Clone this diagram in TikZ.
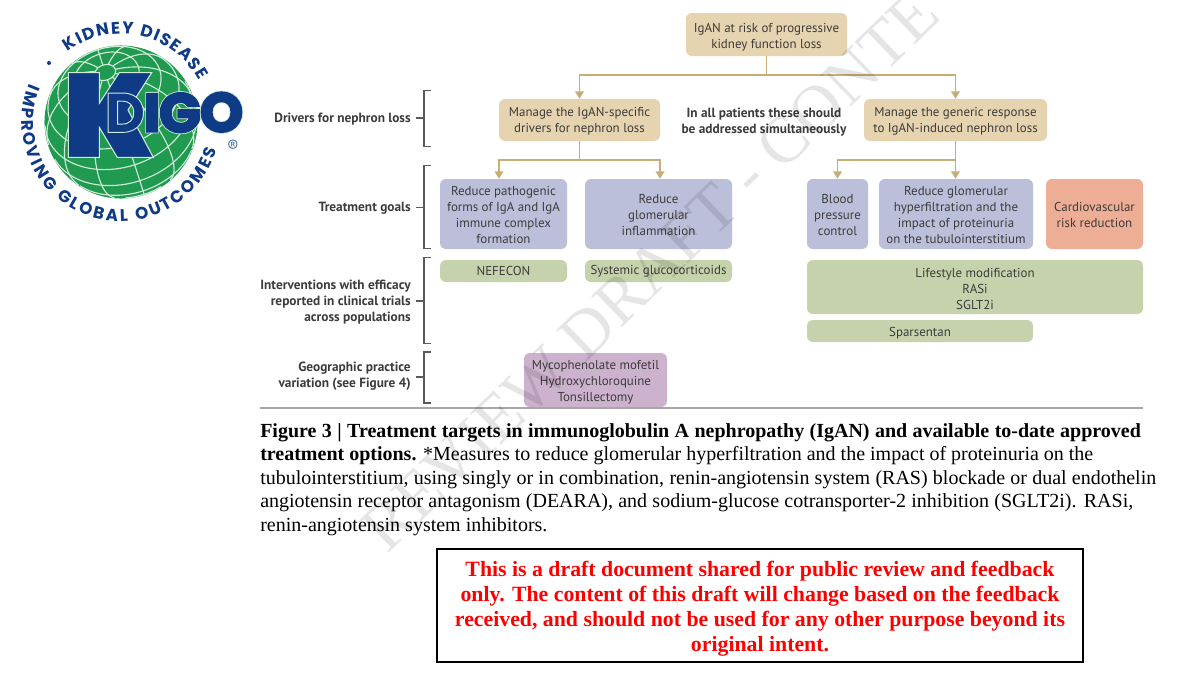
\documentclass[tikz,border=0pt]{standalone}
\usepackage{fontspec}
\usetikzlibrary{arrows.meta,decorations.text,calc}
\setmainfont{Liberation Serif}
\newfontfamily\figfont{PT Sans}
\newfontfamily\logofont{Poppins}
\definecolor{tanbox}{HTML}{E6D3AF}
\definecolor{lilac}{HTML}{BCBFDA}
\definecolor{salmon}{HTML}{EEAD95}
\definecolor{sage}{HTML}{C5D2AB}
\definecolor{mauve}{HTML}{CDB2CE}
\definecolor{linktan}{HTML}{C8AE76}
\definecolor{figtext}{HTML}{3C3C3C}
\definecolor{bracketgrey}{HTML}{5A5A5A}
\definecolor{kblue}{HTML}{0F3A85}
\definecolor{kgreen}{HTML}{1F9A50}
\definecolor{klight}{HTML}{CFEBD6}
\definecolor{regblue}{HTML}{4A75B5}
\newcommand\strokedtext[2]{\special{pdf:code 2 Tr #1 w}#2\special{pdf:code 0 Tr}}
\newcommand\lowtext[1]{\rule{0pt}{#1}}
\newcommand\logoletter[5]{% name, x,y, size, letter
  \node[logoglyph,text=klight] at (#2,#3) {\fontsize{#4}{#4}\logofont\bfseries\strokedtext{3.0}{#5}};
  \node[logoglyph,text=kblue] (#1) at (#2,#3) {\fontsize{#4}{#4}\logofont\bfseries\strokedtext{1.8}{#5}};}
\tikzset{
  x=0.75pt,y=-0.75pt,
  figbox/.style={rounded corners=4.5pt,inner sep=0pt,align=center,text=figtext,font=\figfont\fontsize{9.7}{12}\selectfont},
  tanfill/.style={figbox,fill=tanbox},
  lilacfill/.style={figbox,fill=lilac},
  salmonfill/.style={figbox,fill=salmon},
  sagefill/.style={figbox,fill=sage},
  mauvefill/.style={figbox,fill=mauve},
  sidelabel/.style={anchor=east,inner sep=0pt,align=right,text=figtext,font=\figfont\bfseries\fontsize{10}{12}\selectfont},
  link/.style={draw=linktan,line width=1.2pt},
  arrowlink/.style={link,-{Triangle[length=5.5pt,width=6.5pt]}},
  bracket/.style={draw=bracketgrey,line width=0.8pt},
  capline/.style={anchor=base west,inner sep=0pt,font=\fontsize{15}{17}\selectfont,text=black},
  redline/.style={anchor=base,inner sep=0pt,font=\bfseries\fontsize{16.35}{18}\selectfont,text=red},
  logoglyph/.style={inner sep=0pt},
  gridline/.style={draw=klight,line width=0.85pt},
  logoarc/.style={decorate,decoration={text along path,text align={fit to path},text color=kblue,text={#1}}},
}
\begin{document}
\begin{tikzpicture}
\useasboundingbox (0,0) rectangle (1200,675);
\fill[white] (0,0) rectangle (1200,675);

% ---- logo
\begin{scope}[shift={(121,122)},x=0.75pt,y=0.75pt]
  \fill[kgreen] (0,0) circle[radius=57.4pt];
  \begin{scope}
    \clip (0,0) circle[radius=57.4pt];
    \foreach \t in {8,26,44,62,80,98,116,132}{
      \pgfmathsetmacro\s{min(1,max(-1,-cot(\t)*1.048))}
      \pgfmathsetmacro\pz{asin(\s)}
      \pgfmathsetmacro\pe{180-\pz}
      \draw[gridline] plot[domain=\pz:\pe,samples=49,variable=\a]
        ({76*(cos(\t)*(-0.21)+sin(\t)*(cos(\a)*0.952+sin(\a)*0.220))},
         {76*(cos(\t)*0.658+sin(\t)*(cos(\a)*0.304-sin(\a)*0.688))});
    }
    \foreach \l in {0,30,...,330}{
      \pgfmathsetmacro\te{atan2(0.723,-sin(\l)*0.690)}
      \draw[gridline] plot[domain=8:\te,samples=30,variable=\a]
        ({76*(cos(\a)*(-0.21)+sin(\a)*(cos(\l)*0.952+sin(\l)*0.220))},
         {76*(cos(\a)*0.658+sin(\a)*(cos(\l)*0.304-sin(\l)*0.688))});
    }
  \end{scope}
  \path[logoarc={|\logofont\bfseries\fontsize{12.6}{13}\selectfont|KIDNEY DISEASE}]
    (127:66pt) arc[start angle=127,end angle=28,radius=66pt];
  \path[logoarc={|\logofont\bfseries\fontsize{12.6}{13}\selectfont|IMPROVING GLOBAL OUTCOMES}]
    (157:74.5pt) arc[start angle=157,end angle=344,radius=74.5pt];
\end{scope}
\fill[kblue] (49,63) circle[radius=2];
\draw[fill=kblue,draw=klight,line width=0.8pt,line join=miter]
  (68.3,72.7) -- (99.3,72.7) -- (99.3,103.3) -- (119.3,72.7) -- (151.7,72.7) -- (128,110)
  -- (153.3,157.3) -- (117.3,157.3) -- (99.3,127.3) -- (99.3,157.3) -- (68.3,157.3) -- cycle;
\node[logoglyph,text=kblue] (logoD) at (125,112.7) {\fontsize{42}{42}\logofont\bfseries\special{pdf:code 2 Tr 0.7 w 0.81 0.92 0.84 RG}D\special{pdf:code 0 Tr}};
\logoletter{logoI}{152}{112.7}{40}{I}
\logoletter{logoG}{180}{112.7}{41}{G}
\logoletter{logoO}{221.5}{112.2}{41}{O}
\node[logoglyph,text=regblue,font=\fontsize{13}{14}\selectfont\figfont] (logoR) at (233,146) {®};

% ---- boxes
\node[tanfill,minimum width=161*0.75pt,minimum height=43*0.75pt] (top) at (766.5,34.5) {\lowtext{10.5pt}IgAN at risk of progressive\\kidney function loss};
\node[tanfill,minimum width=161*0.75pt,minimum height=42*0.75pt] (mgrL) at (579.5,120) {\lowtext{9pt}Manage the IgAN-specific\\drivers for nephron loss};
\node[tanfill,minimum width=183*0.75pt,minimum height=42*0.75pt] (mgrR) at (955.5,120) {\lowtext{9pt}Manage the generic response\\to IgAN-induced nephron loss};
\node[lilacfill,minimum width=127*0.75pt,minimum height=70*0.75pt] (goalA) at (503.5,214) {\lowtext{9pt}Reduce pathogenic\\forms of IgA and IgA\\immune complex\\formation};
\node[lilacfill,minimum width=147*0.75pt,minimum height=70*0.75pt] (goalB) at (658.5,214) {\lowtext{9pt}Reduce\\glomerular\\inflammation};
\node[lilacfill,minimum width=61*0.75pt,minimum height=70*0.75pt] (goalC) at (837.5,214) {\lowtext{9pt}Blood\\pressure\\control};
\node[lilacfill,minimum width=154*0.75pt,minimum height=70*0.75pt] (goalD) at (956,214) {\lowtext{9pt}Reduce glomerular\\hyperfiltration and the\\impact of proteinuria\\on the tubulointerstitium};
\node[salmonfill,minimum width=97*0.75pt,minimum height=70*0.75pt] (goalE) at (1094.5,214) {\lowtext{9pt}Cardiovascular\\risk reduction};
\node[sagefill,minimum width=127*0.75pt,minimum height=22*0.75pt] (nefecon) at (503.5,271) {NEFECON};
\node[sagefill,minimum width=147*0.75pt,minimum height=22*0.75pt] (gluco) at (658.5,271) {Systemic glucocorticoids};
\node[sagefill,minimum width=336*0.75pt,minimum height=54*0.75pt] (life) at (975,287) {\lowtext{10.5pt}Lifestyle modification\\RASi\\SGLT2i};
\node[sagefill,minimum width=226*0.75pt,minimum height=22*0.75pt] (spars) at (920,331) {\lowtext{10pt}Sparsentan};
\node[mauvefill,minimum width=143*0.75pt,minimum height=54*0.75pt] (myco) at (595.5,380) {\lowtext{10.5pt}Mycophenolate mofetil\\Hydroxychloroquine\\Tonsillectomy};
\node[inner sep=0pt,align=center,text=figtext,font=\figfont\bfseries\fontsize{10}{12}\selectfont] (simul) at (764,122) {In all patients these should\\be addressed simultaneously};

% ---- connectors
\draw[link] (top.south) -- ++(0,19) coordinate (j0);
\draw[arrowlink] (j0) -| (mgrL.north);
\draw[arrowlink] (j0) -| (mgrR.north);
\draw[link] (mgrL.south) -- ++(0,19) coordinate (j1);
\draw[arrowlink] (j1) -| ($(goalA.north)+(-4.5,0)$);
\draw[arrowlink] (j1) -| ($(goalB.north)+(1.5,0)$);
\draw[arrowlink] (mgrR.south) -- (mgrR.south |- goalD.north);
\path (mgrR.south) -- ++(0,19) coordinate (j2);
\draw[arrowlink] (j2) -| (goalC.north);

% ---- side labels and brackets
\node[sidelabel] (lab1) at (411,119) {Drivers for nephron loss};
\node[sidelabel] (lab2) at (411,208.5) {Treatment goals};
\node[sidelabel] (lab3) at (411,302) {Interventions with efficacy\\reported in clinical trials\\across populations};
\node[sidelabel] (lab4) at (411,376.5) {Geographic practice\\variation (see Figure 4)};
\draw[bracket] (431,90.5) -| (424,146.5) -- (431,146.5) (416,118) -- (424,118);
\draw[bracket] (431,165.5) -| (424,248.5) -- (431,248.5) (416,207.5) -- (424,207.5);
\draw[bracket] (431,257.5) -| (424,343.5) -- (431,343.5) (416,301) -- (424,301);
\draw[bracket] (431,352) -| (424,403) -- (431,403) (416,377) -- (424,377);
\draw[draw=black!35,line width=1.1pt] (260,408) -- (1143,408);

% ---- caption
\node[capline] (cap1) at (260,437.5) {\makebox[660.5pt][s]{\bfseries Figure 3 | Treatment targets in immunoglobulin A nephropathy (IgAN) and available to-date approved}};
\node[capline] (cap2) at (260,460.8) {\makebox[624.75pt][s]{\textbf{treatment options.} *Measures to reduce glomerular hyperfiltration and the impact of proteinuria on the}};
\node[capline] (cap3) at (260,484.2) {\makebox[672pt][s]{tubulointerstitium, using singly or in combination, renin-angiotensin system (RAS) blockade or dual endothelin}};
\node[capline] (cap4) at (260,507.6) {\makebox[654.75pt][s]{angiotensin receptor antagonism (DEARA), and sodium-glucose cotransporter-2 inhibition (SGLT2i). RASi,}};
\node[capline] (cap5) at (260,531) {renin-angiotensin system inhibitors.};

% ---- notice
\node[draw=black,line width=1.5pt,minimum width=646*0.75pt,minimum height=113*0.75pt,inner sep=0pt] (notice) at (760,605.5) {};
\node[redline] (red1) at (760,576.5) {This is a draft document shared for public review and feedback};
\node[redline] (red2) at (760,601.3) {only. The content of this draft will change based on the feedback};
\node[redline] (red3) at (760,626.2) {received, and should not be used for any other purpose beyond its};
\node[redline] (red4) at (760,651.2) {original intent.};

% ---- watermark
\node[inner sep=0pt,rotate=44,opacity=0.1,text=black,font=\fontsize{50}{54}\selectfont] (mark) at (650,271) {REVIEW DRAFT - CONTE};
\end{tikzpicture}
\end{document}
